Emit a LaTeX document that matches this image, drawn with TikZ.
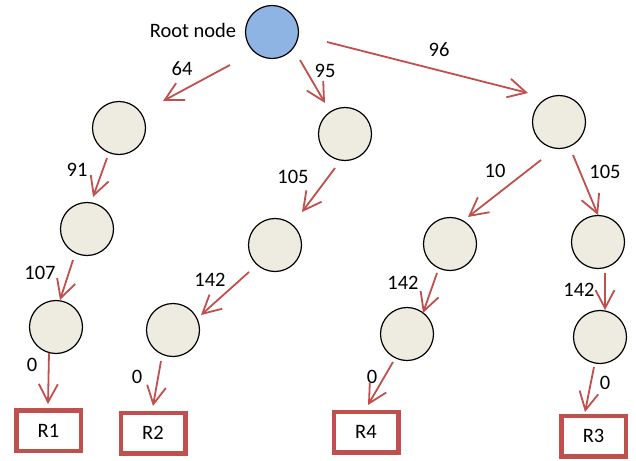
\documentclass[tikz,border=0pt]{standalone}
\usepackage{fontspec}
\setmainfont{Carlito}
\usetikzlibrary{arrows.meta}
\definecolor{rootblue}{RGB}{141,180,226}
\definecolor{nodefill}{RGB}{238,236,225}
\definecolor{arrred}{RGB}{192,80,77}
\tikzset{
  x=1pt,y=-1pt,
  every node/.style={font=\fontsize{20.5}{24}\selectfont},
  tnode/.style={circle,draw=black,line width=1.2pt,fill=nodefill,minimum size=53pt,inner sep=0pt},
  rootnode/.style={tnode,fill=rootblue},
  rbox/.style={draw=arrred,line width=4.5pt,minimum width=64.5pt,minimum height=40.5pt,inner sep=0pt,fill=white},
  arr/.style={draw=arrred,line width=1.8pt,-{Straight Barb[length=18pt,width=19pt,line width=1.8pt]}},
  lbl/.style={inner sep=0pt,anchor=center}
}
\begin{document}
\begin{tikzpicture}
\useasboundingbox (0,0) rectangle (636,460);
% nodes
\node[rootnode] (root) at (272,32) {};
\node[tnode] (A) at (119,128) {};
\node[tnode] (B) at (345,134) {};
\node[tnode] (C) at (559,122) {};
\node[tnode] (D) at (87,229) {};
\node[tnode] (E) at (275,245) {};
\node[tnode] (F) at (450,244) {};
\node[tnode] (G) at (598,242) {};
\node[tnode] (H) at (56,327) {};
\node[tnode] (I) at (173,330) {};
\node[tnode] (J) at (407,334) {};
\node[tnode] (K) at (600,337) {};
\node[rbox] (R1) at (48.5,430.5) {R1};
\node[rbox] (R2) at (153,433) {R2};
\node[rbox] (R4) at (366,432) {R4};
\node[rbox] (R3) at (593.5,436) {R3};
% connectors
\draw[arr] ([shift={(-42,33)}]root.center) -- ([shift={(44,-27)}]A.center);
\draw[arr] ([shift={(28,28)}]root.center) -- ([shift={(-20,-31)}]B.center);
\draw[arr] ([shift={(55,10)}]root.center) -- ([shift={(-31,-29)}]C.center);
\draw[arr] ([shift={(-12,30)}]A.center) -- ([shift={(6,-32)}]D.center);
\draw[arr] ([shift={(-10,34)}]B.center) -- ([shift={(27,-33)}]E.center);
\draw[arr] ([shift={(-18,38)}]C.center) -- ([shift={(18,-27)}]F.center);
\draw[arr] ([shift={(14,33)}]C.center) -- ([shift={(0,-27)}]G.center);
\draw[arr] ([shift={(-14,31)}]D.center) -- ([shift={(4,-27)}]H.center);
\draw[arr] ([shift={(-26,27)}]E.center) -- ([shift={(28,-15)}]I.center);
\draw[arr] ([shift={(-13,29)}]F.center) -- ([shift={(16,-21)}]J.center);
\draw[arr] ([shift={(7,31)}]G.center) -- ([shift={(5,-27)}]K.center);
\draw[arr] ([shift={(-7,26)}]H.center) -- ([shift={(-0.5,-26.5)}]R1.center);
\draw[arr] ([shift={(-12,31)}]I.center) -- ([shift={(0,-27)}]R2.center);
\draw[arr] ([shift={(-14,28)}]J.center) -- ([shift={(2,-27)}]R4.center);
\draw[arr] ([shift={(-6,30)}]K.center) -- ([shift={(-8.5,-24)}]R3.center);
% labels
\node[lbl] (lroot) at (193,30) {Root node};
\node[lbl] (l64) at (182,69) {64};
\node[lbl] (l95) at (325,71) {95};
\node[lbl] (l96) at (439,50) {96};
\node[lbl] (l91) at (77,170) {91};
\node[lbl] (l105a) at (293,177) {105};
\node[lbl] (l10) at (495,171) {10};
\node[lbl] (l105b) at (605,172) {105};
\node[lbl] (l107) at (40,273) {107};
\node[lbl] (l142a) at (210,280) {142};
\node[lbl] (l142b) at (403,283) {142};
\node[lbl] (l142c) at (579,290) {142};
\node[lbl] (l0a) at (32,365) {0};
\node[lbl] (l0b) at (137,377) {0};
\node[lbl] (l0c) at (372,377) {0};
\node[lbl] (l0d) at (605,383) {0};
\end{tikzpicture}
\end{document}
